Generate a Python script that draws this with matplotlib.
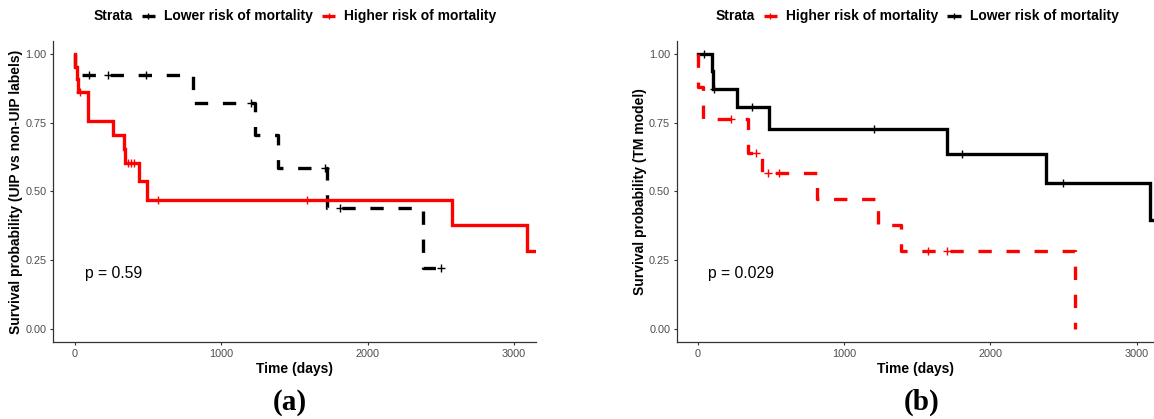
import numpy as np
import matplotlib
matplotlib.use("Agg")
import matplotlib.pyplot as plt
from matplotlib.lines import Line2D
from matplotlib.offsetbox import HPacker, TextArea, DrawingArea, AnchoredOffsetbox

plt.rcParams['font.family'] = ['Liberation Sans', 'DejaVu Sans']
plt.rcParams['lines.scale_dashes'] = False

# panel (a): UIP vs non-UIP labels
a_low_time = [0, 3, 809, 1228, 1388, 1724, 2380, 2506]
a_low_surv = [1.0, 0.923, 0.821, 0.705, 0.587, 0.440, 0.220, 0.220]
a_low_cens = [100, 227, 484, 1205, 1712, 1813, 2500]

a_high_time = [0, 2, 12, 22, 93, 258, 335, 345, 436, 492, 2575, 3090, 3160]
a_high_surv = [1.0, 0.955, 0.909, 0.864, 0.758, 0.705, 0.655, 0.603, 0.537, 0.469, 0.376, 0.282, 0.282]
a_high_cens = [33, 365, 383, 403, 568, 1584]

# panel (b): TM model
b_low_time = [0, 94, 105, 265, 488, 1701, 2379, 3090, 3300]
b_low_surv = [1.0, 0.9375, 0.875, 0.808, 0.727, 0.636, 0.530, 0.397, 0.397]
b_low_cens = [44, 110, 368, 1202, 1807, 2498]

b_high_time = [0, 2, 37, 340, 436, 814, 1229, 1388, 2578]
b_high_surv = [1.0, 0.882, 0.765, 0.640, 0.566, 0.472, 0.377, 0.283, 0.0]
b_high_cens = [230, 398, 480, 555, 1571, 1700]

p_values = ["p = 0.59", "p = 0.029"]
y_labels = ["Survival probability (UIP vs non-UIP labels)", "Survival probability (TM model)"]
panel_tags = ["(a)", "(b)"]

RED = "#FF0000"
BLACK = "#000000"
DASH = (0, (9.6, 10.6))
LW = 2.4


def surv_at(times, surv, t):
    idx = np.searchsorted(times, t, side='right') - 1
    return np.array(surv)[idx]


def draw_curve(ax, times, surv, cens, color, ls):
    ax.step(times, surv, where='post', color=color, lw=LW, linestyle=ls,
            solid_joinstyle='miter', dash_capstyle='butt')
    ax.plot(cens, surv_at(times, surv, cens), linestyle='none', marker='+',
            color=color, ms=5.5, mew=1.0)


def style_axes(ax, xlim, ylabel):
    ax.set_xlim(*xlim)
    ax.set_ylim(-0.05, 1.05)
    ax.set_xticks([0, 1000, 2000, 3000])
    ax.set_yticks([0, 0.25, 0.5, 0.75, 1.0])
    ax.set_yticklabels(["0.00", "0.25", "0.50", "0.75", "1.00"])
    for s in ['top', 'right']:
        ax.spines[s].set_visible(False)
    for s in ['left', 'bottom']:
        ax.spines[s].set_color('#333333')
        ax.spines[s].set_linewidth(0.9)
    ax.tick_params(length=2.4, width=0.8, color='#333333', labelcolor='#4D4D4D',
                   labelsize=7.8, pad=2.5)
    ax.set_xlabel("Time (days)", fontsize=10, fontweight='bold', labelpad=2)
    ax.set_ylabel(ylabel, fontsize=10, fontweight='bold', labelpad=1.5)


def make_key(color):
    da = DrawingArea(9.5, 8, 0, 0)
    da.add_artist(Line2D([0, 9.5], [4, 4], color=color, lw=2.4, solid_capstyle='butt'))
    da.add_artist(Line2D([4.75], [4], marker='+', color=color, ms=5, mew=1.0))
    return da


def legend_box(fig, x, entries):
    tp = dict(fontweight='bold', fontsize=10)
    kids = [TextArea("Strata", textprops=tp)]
    for label, color in entries:
        kids.append(make_key(color))
        kids.append(TextArea(label, textprops=tp))
    box = HPacker(children=kids, sep=6.5, align='center', pad=0)
    anch = AnchoredOffsetbox(loc='center', child=box, pad=0, borderpad=0, frameon=False,
                             bbox_to_anchor=(x, 1 - 16 / 419), bbox_transform=fig.transFigure)
    fig.add_artist(anch)


W, H = 1154, 419
fig = plt.figure(figsize=(W / 100, H / 100), dpi=100)

ax1 = fig.add_axes([53.3 / W, (H - 342.3) / H, 483 / W, 301.7 / H])
draw_curve(ax1, a_low_time, a_low_surv, a_low_cens, BLACK, DASH)
draw_curve(ax1, a_high_time, a_high_surv, a_high_cens, RED, '-')
style_axes(ax1, (-147, 3152), y_labels[0])
ax1.text(68, 0.2, p_values[0], fontsize=11.3, va='center', ha='left')

ax2 = fig.add_axes([677 / W, (H - 342.3) / H, (W - 677) / W, 301.7 / H])
draw_curve(ax2, b_low_time, b_low_surv, b_low_cens, BLACK, '-')
draw_curve(ax2, b_high_time, b_high_surv, b_high_cens, RED, DASH)
style_axes(ax2, (-142, 3118), y_labels[1])
ax2.text(69, 0.2, p_values[1], fontsize=11.3, va='center', ha='left')

legend_box(fig, 295 / W, [("Lower risk of mortality", BLACK), ("Higher risk of mortality", RED)])
legend_box(fig, 917 / W, [("Higher risk of mortality", RED), ("Lower risk of mortality", BLACK)])

fig.text(289.5 / W, 1 - 402 / H, panel_tags[0], ha='center', va='center',
         family='Liberation Serif', fontweight='bold', fontsize=21)
fig.text(922 / W, 1 - 402 / H, panel_tags[1], ha='center', va='center',
         family='Liberation Serif', fontweight='bold', fontsize=21)

fig.savefig("out.png", dpi=100)
